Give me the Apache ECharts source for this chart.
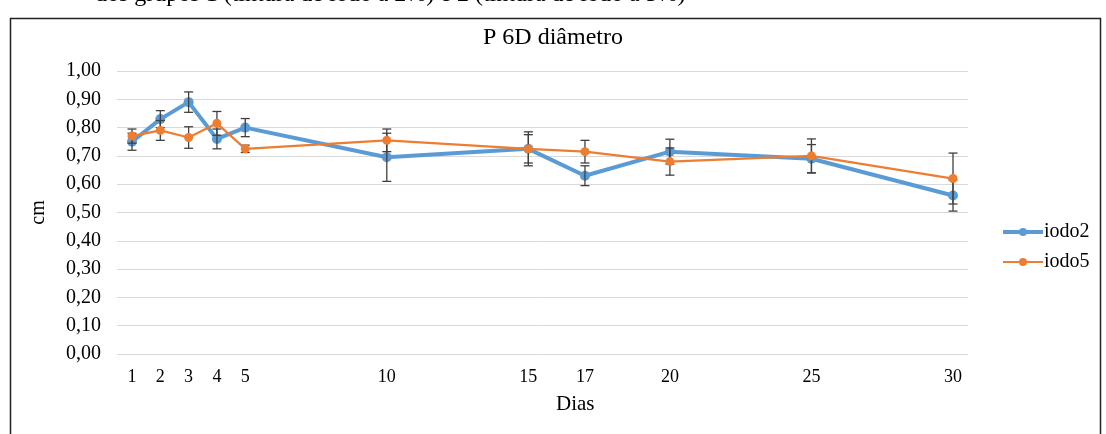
<!DOCTYPE html>
<html>
<head>
<meta charset="utf-8">
<script src="https://cdn.jsdelivr.net/npm/echarts@6/dist/echarts.min.js"></script>
<style>
html,body{margin:0;padding:0;background:#fff;}
#chart{width:1106px;height:434px;}
</style>
</head>
<body>
<div id="chart"></div>
<script>
const days = [1, 2, 3, 4, 5, 10, 15, 17, 20, 25, 30];
const iodo2 = [0.75, 0.83, 0.89, 0.76, 0.80, 0.695, 0.725, 0.63, 0.715, 0.69, 0.56];
const iodo5 = [0.77, 0.79, 0.765, 0.815, 0.725, 0.755, 0.725, 0.715, 0.68, 0.70, 0.62];
const iodo2Err = [0.03, 0.03, 0.036, 0.035, 0.032, 0.085, 0.05, 0.035, 0.044, 0.05, 0.055];
const iodo5Err = [0.025, 0.035, 0.038, 0.042, 0.013, 0.04, 0.06, 0.04, 0.048, 0.06, 0.09];
const titleText = 'P 6D diâmetro';
const headerText = 'dos grupos 1 (tintura de iodo a 2%) e 2 (tintura de iodo a 5%)';

const FONT = '"Liberation Serif", "Times New Roman", serif';
const chart = echarts.init(document.getElementById('chart'));

function pairs(vals) { return days.map((d, i) => [d, vals[i]]); }
function errData(vals, errs) { return days.map((d, i) => [d, vals[i] - errs[i], vals[i] + errs[i]]); }

function errRender(params, api) {
  const x = api.value(0);
  const lo = api.coord([x, api.value(1)]);
  const hi = api.coord([x, api.value(2)]);
  const w = 4.5;
  const st = { stroke: '#404040', lineWidth: 1.3 };
  return {
    type: 'group',
    children: [
      { type: 'line', shape: { x1: lo[0], y1: lo[1], x2: hi[0], y2: hi[1] }, style: st },
      { type: 'line', shape: { x1: lo[0] - w, y1: lo[1], x2: lo[0] + w, y2: lo[1] }, style: st },
      { type: 'line', shape: { x1: hi[0] - w, y1: hi[1], x2: hi[0] + w, y2: hi[1] }, style: st }
    ]
  };
}

chart.setOption({
  animation: false,
  backgroundColor: '#fff',
  title: {
    text: titleText,
    left: 'center',
    top: 21,
    textStyle: { fontFamily: FONT, fontSize: 24, fontWeight: 'normal', color: '#000' }
  },
  legend: {
    orient: 'vertical',
    left: 996,
    top: 217,
    itemWidth: 40,
    itemHeight: 10,
    itemGap: 10,
    textStyle: { fontFamily: FONT, fontSize: 20, color: '#000', padding: [0, 0, 0, -4] },
    data: [
      { name: 'iodo2', lineStyle: { width: 4 } },
      { name: 'iodo5', lineStyle: { width: 2.2 } }
    ]
  },
  grid: { left: 117, right: 138, top: 71, bottom: 80, containLabel: false },
  xAxis: {
    type: 'value',
    min: 0.47,
    max: 30.53,
    axisLine: { show: false },
    axisTick: { show: false },
    splitLine: { show: false },
    axisLabel: {
      customValues: days,
      fontFamily: FONT,
      fontSize: 18,
      color: '#000',
      margin: 14,
      formatter: v => String(v)
    }
  },
  yAxis: {
    type: 'value',
    min: 0,
    max: 1,
    interval: 0.1,
    name: 'cm',
    nameLocation: 'middle',
    nameGap: 68,
    nameRotate: 90,
    nameTextStyle: { fontFamily: FONT, fontSize: 20, color: '#000' },
    axisLine: { show: false },
    axisTick: { show: false },
    splitLine: { lineStyle: { color: '#d9d9d9', width: 1 } },
    axisLabel: {
      fontFamily: FONT,
      fontSize: 20,
      color: '#000',
      margin: 16,
      formatter: v => v.toFixed(2).replace('.', ',')
    }
  },
  graphic: [
    {
      type: 'rect',
      shape: { x: 10.5, y: 18.5, width: 1090, height: 430 },
      style: { fill: 'none', stroke: '#222', lineWidth: 1.5 },
      silent: true
    },
    {
      type: 'text',
      left: 95,
      top: -17,
      style: { text: headerText, font: '24px ' + FONT, fill: '#000' },
      silent: true
    },
    {
      type: 'text',
      left: 556,
      top: 394,
      style: { text: 'Dias', font: '21px ' + FONT, fill: '#000' },
      silent: true
    }
  ],
  series: [
    {
      name: 'iodo2err',
      type: 'custom',
      renderItem: errRender,
      data: errData(iodo2, iodo2Err),
      z: 3,
      silent: true
    },
    {
      name: 'iodo5err',
      type: 'custom',
      renderItem: errRender,
      data: errData(iodo5, iodo5Err),
      z: 3,
      silent: true
    },
    {
      name: 'iodo2',
      type: 'line',
      data: pairs(iodo2),
      symbol: 'circle',
      symbolSize: 10,
      color: '#5B9BD5',
      lineStyle: { width: 4, color: '#5B9BD5' },
      itemStyle: { color: '#5B9BD5' },
      z: 2
    },
    {
      name: 'iodo5',
      type: 'line',
      data: pairs(iodo5),
      symbol: 'circle',
      symbolSize: 9,
      color: '#ED7D31',
      lineStyle: { width: 2.2, color: '#ED7D31' },
      itemStyle: { color: '#ED7D31' },
      z: 4
    }
  ]
});
</script>
</body>
</html>
